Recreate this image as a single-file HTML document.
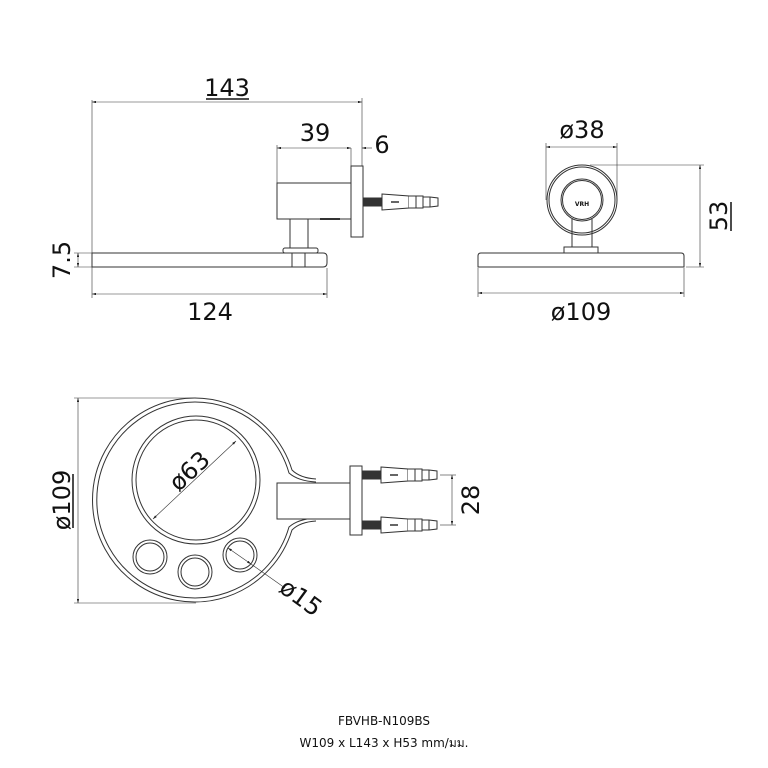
<!DOCTYPE html>
<html><head><meta charset="utf-8"><style>
html,body{margin:0;padding:0;background:#fff;width:768px;height:768px;overflow:hidden}
svg{display:block}
text{font-family:"DejaVu Sans","Liberation Sans",sans-serif;fill:#111}
</style></head><body>
<svg width="768" height="768" viewBox="0 0 768 768" xmlns="http://www.w3.org/2000/svg">
<defs>
<marker id="a" viewBox="0 0 10 6" refX="10" refY="3" markerWidth="7" markerHeight="4" orient="auto-start-reverse"><path d="M0,0 L10,3 L0,6z" fill="#222"/></marker>
<g id="anc">
<rect x="0" y="-4" width="19" height="8" fill="#333"/>
<path d="M19,-8 L46,-6 L46,6 L19,8Z" fill="#fff" stroke="#333" stroke-width="1"/>
<line x1="28" y1="0" x2="36" y2="0" stroke="#333" stroke-width="1.5"/>
<path d="M46,-6 L53,-6 L53,6 L46,6 M53,-6 L60,-6 L60,6 L53,6 M60,-5 L67,-5 L67,5 L60,5 M67,-5 L75,-4 L75,4 L67,5" fill="#fff" stroke="#333" stroke-width="1"/>
</g>
</defs>
<g fill="none" stroke="#333" stroke-width="1">
<line x1="92" y1="100" x2="92" y2="298" stroke-width="0.6"/>
<line x1="362" y1="98" x2="362" y2="166" stroke-width="0.6"/>
<line x1="92" y1="102" x2="362" y2="102" stroke-width="0.6" marker-start="url(#a)" marker-end="url(#a)"/>
<line x1="277" y1="145" x2="277" y2="183" stroke-width="0.6"/>
<line x1="277" y1="148" x2="351" y2="148" stroke-width="0.6" marker-start="url(#a)" marker-end="url(#a)"/>
<line x1="351" y1="148" x2="351" y2="166" stroke-width="0.6"/>
<line x1="372" y1="148" x2="362" y2="148" stroke-width="0.6" marker-end="url(#a)"/>
<rect x="277" y="183" width="74" height="36"/>
<rect x="351" y="166" width="12" height="71"/>
<line x1="320" y1="219" x2="340" y2="219" stroke-width="2"/>
<use href="#anc" x="363" y="202"/>
<path d="M290,219 V248 M308,219 V248"/>
<rect x="283" y="248" width="35" height="5" rx="2"/>
<path d="M92,253 H323 Q327,253 327,257 V263 Q327,267 323,267 H92 Z"/>
<path d="M292,253 V267 M305,253 V267"/>
<line x1="74" y1="253" x2="92" y2="253" stroke-width="0.6"/>
<line x1="74" y1="267" x2="92" y2="267" stroke-width="0.6"/>
<line x1="78" y1="253" x2="78" y2="267" stroke-width="0.6" marker-start="url(#a)" marker-end="url(#a)"/>
<line x1="327" y1="268" x2="327" y2="298" stroke-width="0.6"/>
<line x1="92" y1="294" x2="327" y2="294" stroke-width="0.6" marker-start="url(#a)" marker-end="url(#a)"/>
<line x1="546" y1="143" x2="546" y2="200" stroke-width="0.6"/>
<line x1="617" y1="143" x2="617" y2="200" stroke-width="0.6"/>
<line x1="546" y1="147" x2="617" y2="147" stroke-width="0.6" marker-start="url(#a)" marker-end="url(#a)"/>
<circle cx="582" cy="200" r="35"/>
<circle cx="582" cy="200" r="33"/>
<circle cx="582" cy="200" r="21"/>
<circle cx="582" cy="200" r="19.5"/>
<path d="M572,219 V247 M592,219 V247"/>
<rect x="564" y="247" width="34" height="6"/>
<path d="M481,253 H681 Q684,253 684,256 V267 H478 V256 Q478,253 481,253Z"/>
<line x1="590" y1="165" x2="704" y2="165" stroke-width="0.6"/>
<line x1="686" y1="267" x2="704" y2="267" stroke-width="0.6"/>
<line x1="700" y1="165" x2="700" y2="267" stroke-width="0.6" marker-start="url(#a)" marker-end="url(#a)"/>
<line x1="478" y1="268" x2="478" y2="297" stroke-width="0.6"/>
<line x1="684" y1="268" x2="684" y2="297" stroke-width="0.6"/>
<line x1="478" y1="293" x2="684" y2="293" stroke-width="0.6" marker-start="url(#a)" marker-end="url(#a)"/>
<!-- bottom view -->
<path d="M316,479 Q300,478 292,470 A102,102 0 1 0 292,530 Q300,522 316,521"/>
<path d="M316,482 Q298,481 289,473 A98,98 0 1 0 289,527 Q298,519 316,518"/>
<circle cx="196" cy="480" r="64"/>
<circle cx="196" cy="480" r="60"/>
<circle cx="150" cy="557" r="17"/><circle cx="150" cy="557" r="14"/>
<circle cx="195" cy="572" r="17"/><circle cx="195" cy="572" r="14"/>
<circle cx="240" cy="555" r="17"/><circle cx="240" cy="555" r="14"/>
<rect x="277" y="483" width="73" height="36" fill="#fff"/>
<rect x="350" y="466" width="12" height="69"/>
<use href="#anc" x="362" y="475"/>
<use href="#anc" x="362" y="525"/>
<line x1="440" y1="475" x2="456" y2="475" stroke-width="0.6"/>
<line x1="440" y1="525" x2="456" y2="525" stroke-width="0.6"/>
<line x1="452" y1="475" x2="452" y2="525" stroke-width="0.6" marker-start="url(#a)" marker-end="url(#a)"/>
<line x1="74" y1="398" x2="196" y2="398" stroke-width="0.6"/>
<line x1="74" y1="603" x2="196" y2="603" stroke-width="0.6"/>
<line x1="78" y1="398" x2="78" y2="603" stroke-width="0.6" marker-start="url(#a)" marker-end="url(#a)"/>
<line x1="153" y1="519" x2="236" y2="441" stroke-width="0.6" marker-start="url(#a)" marker-end="url(#a)"/>
<line x1="228" y1="548" x2="251" y2="564" stroke-width="0.6" marker-start="url(#a)" marker-end="url(#a)"/>
<line x1="251" y1="564" x2="285" y2="588" stroke-width="0.6"/>
</g>
<text x="582" y="206" font-size="6" text-anchor="middle" font-weight="bold">VRH</text>
<g font-size="24">
<text x="227" y="96" text-anchor="middle">143</text>
<line x1="206" y1="99" x2="249" y2="99" stroke="#111" stroke-width="1.5"/>
<text x="315" y="141" text-anchor="middle">39</text>
<text x="382" y="153" text-anchor="middle">6</text>
<text x="210" y="320" text-anchor="middle">124</text>
<text transform="translate(70,260) rotate(-90)" text-anchor="middle">7.5</text>
<text x="582" y="138" text-anchor="middle">ø38</text>
<text x="581" y="320" text-anchor="middle">ø109</text>
<text transform="translate(727,216) rotate(-90)" text-anchor="middle">53</text>
<line x1="731" y1="202" x2="731" y2="231" stroke="#111" stroke-width="1.5"/>
<text transform="translate(70,500) rotate(-90)" text-anchor="middle">ø109</text>
<line x1="73" y1="474" x2="73" y2="528" stroke="#111" stroke-width="1.5"/>
<text transform="translate(479,500) rotate(-90)" text-anchor="middle">28</text>
<text transform="translate(195,477) rotate(-43)" text-anchor="middle">ø63</text>
<text transform="translate(296,604) rotate(36)" text-anchor="middle">ø15</text>
</g>
<text x="384" y="725" font-size="12" text-anchor="middle">FBVHB-N109BS</text>
<text x="384" y="747" font-size="12" text-anchor="middle">W109 x L143 x H53 mm/มม.</text>
</svg>
</body></html>
